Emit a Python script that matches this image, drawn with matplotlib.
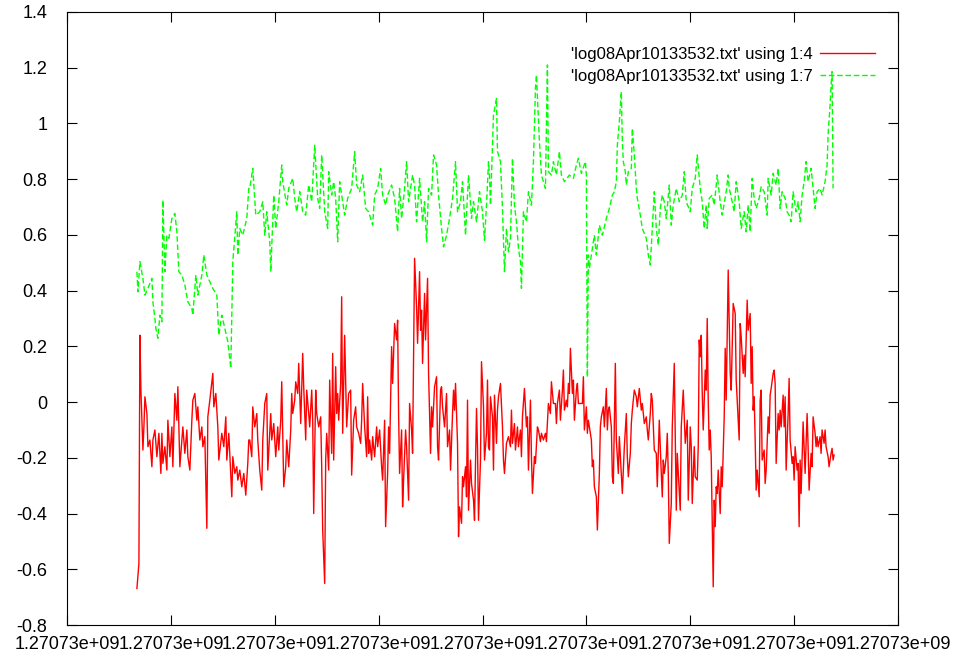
import numpy as np
import matplotlib
matplotlib.use('Agg')
import matplotlib.pyplot as plt
from matplotlib.ticker import FuncFormatter

plt.rcParams['font.family'] = ['Liberation Sans', 'DejaVu Sans']

t0 = 1270729600  # epoch seconds at left edge of plot
x_ticks = [0, 104, 208, 312, 416, 520, 624, 728, 832]
y_ticks = [-0.8, -0.6, -0.4, -0.2, 0, 0.2, 0.4, 0.6, 0.8, 1, 1.2, 1.4]

labels = ["'log08Apr10133532.txt' using 1:4", "'log08Apr10133532.txt' using 1:7"]

# column 4 (seconds after t0, value)
red_t = [70, 72, 73, 74, 76, 77, 78, 80, 81, 83, 85, 86, 88, 90, 92, 94, 95, 96, 98, 100,
         101, 103, 105, 106, 108, 110, 111, 113, 115, 116, 118, 120, 121, 123, 125, 126, 128, 130, 131, 133,
         135, 136, 138, 140, 141, 143, 146, 147, 149, 151, 152, 155, 157, 159, 160, 162, 165, 166, 168, 170,
         171, 173, 175, 177, 179, 181, 182, 183, 185, 186, 188, 190, 191, 193, 195, 196, 198, 200, 201, 204,
         205, 207, 209, 211, 212, 214, 215, 217, 219, 220, 222, 224, 225, 226, 228, 229, 231, 232, 234, 236,
         237, 239, 240, 242, 243, 245, 246, 247, 249, 250, 252, 254, 255, 256, 258, 259, 260, 262, 263, 265,
         266, 267, 269, 270, 271, 272, 274, 275, 276, 278, 280, 282, 284, 285, 287, 289, 290, 292, 294, 295,
         296, 298, 300, 301, 302, 303, 305, 306, 308, 310, 311, 313, 315, 316, 318, 319, 321, 322, 323, 325,
         326, 328, 330, 331, 332, 333, 335, 336, 337, 339, 340, 342, 343, 345, 346, 348, 350, 351, 353, 354,
         355, 356, 358, 359, 361, 362, 364, 365, 366, 368, 370, 371, 372, 374, 375, 376, 378, 380, 381, 383,
         384, 386, 387, 388, 389, 391, 392, 393, 395, 396, 397, 399, 400, 401, 402, 404, 405, 407, 408, 410,
         411, 412, 414, 415, 417, 418, 420, 421, 422, 423, 424, 426, 427, 428, 430, 431, 432, 434, 436, 437,
         438, 440, 442, 444, 445, 446, 448, 449, 451, 452, 454, 455, 456, 458, 460, 461, 462, 464, 465, 466,
         468, 469, 471, 472, 474, 475, 477, 479, 480, 482, 484, 485, 487, 489, 490, 491, 493, 494, 496, 497,
         498, 500, 501, 502, 503, 504, 506, 507, 508, 510, 511, 512, 514, 516, 517, 518, 520, 521, 522, 524,
         525, 526, 527, 528, 530, 531, 533, 534, 535, 537, 538, 540, 541, 542, 543, 545, 546, 547, 549, 550,
         552, 553, 555, 556, 557, 558, 560, 561, 562, 564, 565, 566, 568, 570, 571, 573, 575, 576, 578, 580,
         581, 582, 584, 585, 586, 588, 590, 591, 592, 593, 595, 596, 597, 598, 600, 601, 602, 603, 604, 605,
         606, 608, 609, 610, 611, 613, 614, 615, 617, 618, 619, 621, 622, 624, 625, 626, 628, 629, 631, 632,
         633, 634, 635, 636, 637, 639, 640, 641, 642, 643, 644, 645, 647, 648, 649, 650, 651, 652, 654, 655,
         656, 658, 659, 660, 662, 664, 665, 667, 669, 670, 673, 674, 675, 677, 678, 679, 681, 682, 684, 685,
         686, 687, 688, 689, 690, 691, 693, 694, 695, 696, 698, 699, 700, 702, 703, 704, 705, 707, 708, 709,
         710, 712, 713, 714, 715, 717, 718, 719, 720, 722, 723, 724, 726, 727, 728, 729, 731, 732, 733, 734,
         735, 737, 738, 739, 741, 742, 743, 745, 746, 747, 749, 750, 751, 752, 754, 755, 756, 758, 759, 760,
         762, 763, 765, 766, 767, 768]
red_v = [-0.669, -0.579, 0.240, 0.043, -0.172, -0.089, 0.019, -0.041, -0.160, -0.136, -0.232, -0.136, -0.100, -0.196, -0.112, -0.256, -0.112, -0.220, -0.160, -0.244,
         -0.065, -0.196, -0.089, -0.232, 0.031, -0.065, 0.055, -0.232, -0.136, -0.089, -0.184, -0.100, -0.196, -0.244, -0.065, 0.007, 0.031, -0.065, -0.017, -0.136,
         -0.089, -0.160, -0.124, -0.453, -0.053, 0.007, 0.103, -0.017, 0.031, -0.089, -0.208, -0.112, -0.160, -0.053, -0.208, -0.112, -0.340, -0.196, -0.256, -0.232,
         -0.280, -0.244, -0.304, -0.256, -0.334, -0.220, -0.136, -0.136, -0.196, -0.017, -0.089, -0.041, -0.136, -0.244, -0.316, -0.136, -0.005, 0.031, -0.244, -0.041,
         -0.136, -0.077, -0.196, -0.089, -0.172, -0.065, 0.073, -0.304, -0.232, -0.136, -0.232, -0.100, 0.031, -0.041, 0.007, 0.073, 0.031, 0.139, -0.077, 0.175,
         0.055, -0.136, 0.043, -0.041, -0.089, 0.043, -0.065, -0.400, 0.043, -0.041, -0.089, -0.053, -0.232, -0.459, -0.651, -0.208, -0.112, -0.244, 0.079, -0.184,
         0.175, -0.208, 0.127, -0.041, 0.031, -0.065, 0.067, 0.378, -0.112, 0.240, -0.089, 0.031, 0.043, -0.262, -0.065, -0.017, -0.089, -0.112, -0.148, -0.065,
         0.067, -0.089, -0.196, 0.019, -0.184, -0.136, -0.208, -0.124, -0.196, -0.089, -0.160, -0.100, -0.232, -0.280, -0.065, -0.447, -0.256, -0.089, -0.184, 0.199,
         0.067, 0.282, 0.223, 0.294, -0.041, -0.256, -0.100, -0.376, -0.280, -0.100, -0.160, -0.352, -0.005, -0.100, -0.184, 0.516, 0.342, 0.211, 0.468, 0.258,
         0.330, 0.139, 0.390, 0.223, 0.444, 0.103, -0.184, -0.017, -0.089, 0.055, 0.091, -0.160, -0.208, 0.043, 0.055, -0.017, -0.089, 0.031, -0.160, -0.100,
         -0.244, -0.041, 0.043, -0.029, 0.067, -0.148, -0.483, -0.376, -0.435, -0.268, -0.304, -0.232, -0.340, 0.007, -0.388, -0.208, -0.292, -0.352, -0.424, -0.023,
         -0.160, -0.424, -0.208, 0.145, -0.017, -0.208, -0.112, 0.079, -0.160, -0.172, 0.019, -0.053, -0.244, 0.025, -0.148, -0.029, 0.019, 0.067, -0.089, -0.208,
         -0.256, -0.148, -0.124, -0.160, -0.029, -0.148, -0.077, -0.172, -0.089, -0.160, -0.100, -0.196, -0.053, 0.049, -0.089, -0.053, -0.244, 0.007, -0.196, -0.328,
         -0.196, -0.220, -0.089, -0.100, -0.142, -0.112, -0.136, -0.112, -0.142, -0.005, -0.041, 0.073, -0.005, -0.005, -0.077, -0.005, 0.043, -0.065, 0.043, 0.115,
         -0.029, 0.007, -0.017, 0.067, 0.031, 0.193, 0.031, 0.079, -0.065, 0.043, 0.067, -0.005, -0.005, -0.005, 0.091, -0.100, -0.017, -0.112, -0.065, -0.112,
         -0.136, -0.232, -0.208, -0.304, -0.340, -0.459, -0.256, -0.089, -0.053, -0.017, -0.089, 0.049, -0.100, -0.029, -0.017, -0.089, -0.268, -0.292, 0.139, -0.136,
         -0.256, -0.124, -0.256, -0.328, -0.244, -0.160, -0.041, -0.196, -0.268, -0.184, -0.077, -0.029, 0.043, 0.019, -0.017, 0.049, -0.029, -0.005, -0.077, -0.053,
         -0.100, -0.136, -0.041, 0.031, 0.007, -0.172, -0.184, -0.304, -0.184, -0.065, -0.256, -0.340, -0.208, -0.256, -0.196, -0.112, -0.256, -0.507, -0.435, -0.364,
         -0.089, 0.139, -0.136, -0.388, -0.184, -0.316, -0.388, -0.089, 0.043, -0.053, -0.148, -0.065, -0.352, -0.089, -0.160, -0.364, -0.160, -0.268, -0.280, -0.160,
         0.223, 0.163, 0.240, 0.031, -0.100, 0.115, 0.043, 0.300, 0.007, -0.172, -0.100, -0.196, -0.663, -0.352, -0.447, -0.304, -0.328, -0.244, -0.400, -0.232,
         -0.304, -0.053, 0.193, 0.007, 0.474, 0.103, 0.043, 0.354, 0.318, 0.079, -0.136, 0.282, 0.234, 0.103, 0.169, 0.091, 0.366, 0.258, 0.318, 0.067,
         0.199, -0.029, 0.019, -0.136, -0.316, -0.244, -0.340, 0.007, 0.043, -0.208, -0.172, -0.292, -0.244, -0.053, -0.112, 0.025, 0.049, 0.103, 0.115, 0.067,
         -0.220, -0.041, -0.100, -0.029, -0.089, 0.025, -0.089, 0.019, -0.244, -0.041, 0.085, -0.136, -0.220, -0.196, -0.280, -0.160, -0.244, -0.220, -0.447, -0.208,
         -0.328, -0.071, -0.160, -0.256, -0.041, -0.160, -0.316, -0.184, -0.232, -0.053, -0.112, -0.160, -0.124, -0.160, -0.124, -0.184, -0.100, -0.148, -0.100, -0.160,
         -0.196, -0.232, -0.184, -0.166, -0.208, -0.190]

# column 7
green_t = [70, 71, 73, 76, 78, 81, 85, 86, 88, 89, 91, 93, 95, 96, 98, 100, 102, 105, 108, 110,
           112, 115, 118, 121, 125, 126, 129, 131, 135, 137, 140, 143, 146, 150, 152, 155, 158, 161, 164, 166,
           170, 171, 173, 176, 180, 182, 183, 186, 189, 193, 196, 198, 200, 203, 204, 207, 209, 212, 215, 216,
           220, 222, 226, 228, 230, 233, 236, 239, 242, 245, 248, 251, 253, 255, 258, 261, 262, 265, 267, 269,
           271, 273, 276, 278, 281, 285, 288, 290, 293, 296, 299, 302, 303, 306, 308, 311, 314, 316, 319, 321,
           325, 328, 331, 333, 335, 338, 340, 342, 346, 348, 350, 353, 356, 358, 360, 362, 365, 367, 370, 372,
           375, 377, 380, 383, 386, 389, 391, 394, 396, 399, 402, 405, 407, 410, 413, 416, 418, 420, 422, 423,
           424, 427, 430, 431, 434, 436, 438, 440, 442, 444, 446, 448, 450, 452, 454, 455, 457, 460, 462, 465,
           467, 469, 470, 473, 475, 477, 479, 481, 482, 485, 487, 490, 493, 495, 498, 503, 507, 510, 512, 515,
           519, 520, 521, 522, 523, 526, 528, 530, 533, 536, 540, 542, 543, 546, 548, 550, 551, 553, 555, 556,
           557, 559, 560, 562, 565, 566, 568, 570, 571, 574, 576, 580, 582, 584, 586, 588, 590, 592, 594, 596,
           598, 600, 603, 605, 607, 610, 613, 616, 618, 620, 624, 626, 629, 631, 634, 636, 638, 640, 641, 643,
           646, 648, 651, 654, 656, 660, 662, 663, 666, 668, 670, 673, 675, 678, 680, 682, 684, 686, 688, 690,
           693, 695, 698, 701, 702, 705, 707, 710, 712, 714, 716, 719, 721, 723, 725, 727, 730, 732, 734, 736,
           738, 740, 742, 745, 747, 749, 751, 754, 756, 759, 761, 762, 764, 765, 766, 767]
green_v = [0.468, 0.396, 0.504, 0.444, 0.384, 0.408, 0.444, 0.360, 0.300, 0.264, 0.229, 0.312, 0.288, 0.725, 0.468, 0.599, 0.588, 0.659, 0.677, 0.611,
           0.468, 0.456, 0.420, 0.360, 0.336, 0.312, 0.456, 0.384, 0.456, 0.528, 0.456, 0.432, 0.408, 0.384, 0.240, 0.312, 0.264, 0.217, 0.121, 0.504,
           0.683, 0.528, 0.623, 0.599, 0.659, 0.767, 0.767, 0.839, 0.671, 0.683, 0.719, 0.599, 0.683, 0.575, 0.468, 0.743, 0.623, 0.719, 0.851, 0.791,
           0.707, 0.767, 0.803, 0.731, 0.683, 0.755, 0.683, 0.671, 0.779, 0.719, 0.922, 0.731, 0.695, 0.887, 0.683, 0.623, 0.827, 0.743, 0.791, 0.731,
           0.575, 0.791, 0.719, 0.671, 0.731, 0.767, 0.899, 0.779, 0.755, 0.815, 0.695, 0.683, 0.671, 0.635, 0.743, 0.767, 0.839, 0.743, 0.707, 0.743,
           0.779, 0.731, 0.611, 0.767, 0.659, 0.767, 0.863, 0.719, 0.815, 0.779, 0.647, 0.803, 0.647, 0.719, 0.575, 0.767, 0.743, 0.887, 0.851, 0.743,
           0.623, 0.557, 0.599, 0.659, 0.731, 0.863, 0.683, 0.719, 0.791, 0.599, 0.815, 0.659, 0.719, 0.647, 0.755, 0.683, 0.581, 0.707, 0.863, 0.815,
           0.707, 1.030, 1.090, 0.899, 0.863, 0.695, 0.468, 0.623, 0.539, 0.588, 0.875, 0.707, 0.647, 0.552, 0.504, 0.408, 0.683, 0.647, 0.755, 0.707,
           0.863, 1.126, 1.174, 0.934, 0.815, 0.791, 0.767, 1.210, 0.827, 0.815, 0.863, 0.815, 0.899, 0.815, 0.791, 0.815, 0.803, 0.851, 0.875, 0.821,
           0.863, 0.815, 0.090, 0.528, 0.480, 0.552, 0.599, 0.528, 0.635, 0.599, 0.659, 0.683, 0.695, 0.743, 0.755, 0.791, 0.922, 1.006, 1.114, 0.934,
           0.863, 0.827, 0.779, 0.827, 0.839, 0.982, 0.887, 0.767, 0.731, 0.671, 0.623, 0.588, 0.528, 0.492, 0.623, 0.755, 0.623, 0.564, 0.695, 0.743,
           0.719, 0.659, 0.779, 0.635, 0.707, 0.767, 0.719, 0.743, 0.827, 0.719, 0.683, 0.767, 0.803, 0.887, 0.767, 0.719, 0.623, 0.707, 0.623, 0.731,
           0.743, 0.707, 0.815, 0.719, 0.671, 0.755, 0.815, 0.767, 0.719, 0.683, 0.791, 0.719, 0.623, 0.683, 0.611, 0.707, 0.611, 0.803, 0.731, 0.695,
           0.731, 0.773, 0.755, 0.671, 0.803, 0.743, 0.821, 0.779, 0.839, 0.695, 0.755, 0.731, 0.683, 0.671, 0.647, 0.755, 0.683, 0.719, 0.647, 0.743,
           0.791, 0.863, 0.791, 0.839, 0.767, 0.695, 0.755, 0.767, 0.743, 0.791, 0.851, 0.958, 1.066, 1.138, 1.186, 0.767]

red_t = t0 + np.array(red_t)
green_t = t0 + np.array(green_t)

fig = plt.figure(figsize=(9.59, 6.56), dpi=100)
ax = fig.add_axes([67/959, 31/656, 831/959, 613/656])

ax.plot(red_t, red_v, color='#ff0000', lw=1.0, label=labels[0])
ax.plot(green_t, green_v, color='#00ff00', lw=1.0, dashes=(4, 2), label=labels[1])

ax.set_xlim(t0 + x_ticks[0], t0 + x_ticks[-1])
ax.set_ylim(-0.8, 1.4)
ax.set_xticks([t0 + v for v in x_ticks])
ax.set_yticks(y_ticks)
ax.xaxis.set_major_formatter(FuncFormatter(lambda v, p: '%g' % v))
ax.yaxis.set_major_formatter(FuncFormatter(lambda v, p: '%g' % round(v, 2)))
ax.tick_params(direction='in', length=7, width=0.8, top=True, right=True, labelsize=13)
ax.tick_params(axis='x', pad=8)
ax.tick_params(axis='y', pad=14)
for s in ax.spines.values():
    s.set_linewidth(0.8)

# legend: text on the left, sample line on the right, like gnuplot's key
leg = ax.legend(loc='upper right', bbox_to_anchor=(0.972, 0.943), frameon=False, markerfirst=False,
                fontsize=12, handlelength=3.3, handletextpad=0.42, labelspacing=0.42,
                borderpad=0, borderaxespad=0)

fig.savefig('out.png', dpi=100)
